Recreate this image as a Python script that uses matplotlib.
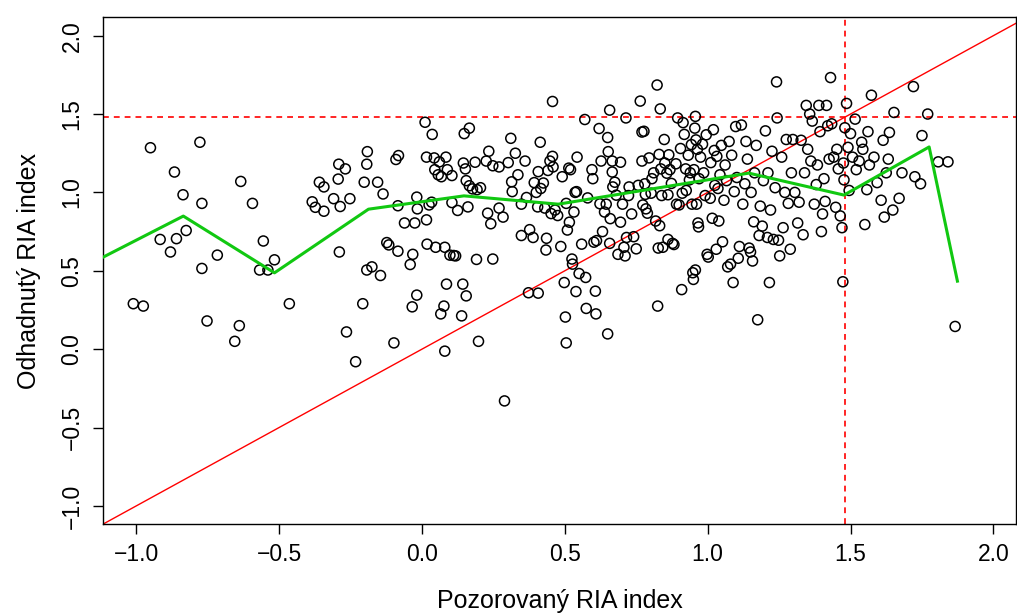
import matplotlib
matplotlib.use("Agg")
import matplotlib.pyplot as plt
import numpy as np

plt.rcParams['font.family'] = ['Liberation Sans', 'DejaVu Sans']

# observed RIA index (x) vs estimated RIA index (y)
pts = [
(-1.01,0.29),(-0.975,0.275),(-0.95,1.285),(-0.916,0.70),(-0.88,0.62),(-0.866,1.13),(-0.859,0.705),
(-0.836,0.985),(-0.825,0.757),(-0.777,1.32),(-0.77,0.93),(-0.77,0.515),(-0.752,0.18),(-0.716,0.60),
(-0.655,0.05),(-0.639,0.15),(-0.634,1.07),(-0.593,0.93),(-0.568,0.505),(-0.555,0.69),(-0.539,0.505),
(-0.516,0.57),(-0.464,0.29),
(-0.384,0.94),(-0.373,0.905),(-0.359,1.065),(-0.343,1.035),(-0.343,0.88),(-0.309,0.96),(-0.293,1.085),
(-0.291,1.18),(-0.286,0.91),(-0.289,0.62),(-0.268,1.15),(-0.264,0.11),(-0.252,0.96),(-0.232,-0.08),
(-0.207,0.29),(-0.202,1.065),(-0.193,1.18),(-0.191,1.26),(-0.193,0.505),(-0.175,0.525),(-0.155,1.065),
(-0.145,0.47),(-0.136,0.99),(-0.123,0.68),(-0.116,0.665),(-0.098,0.04),(-0.091,1.21),(-0.082,1.235),
(-0.084,0.625),(-0.084,0.915),(-0.061,0.805),(-0.041,0.54),(-0.034,0.27),(-0.032,0.605),(-0.025,0.805),
(-0.018,0.97),(-0.018,0.345),(-0.016,0.895),
(0.011,1.4475),(0.016,0.825),(0.018,0.67),(0.016,1.225),(0.025,0.92),(0.036,1.37),(0.034,0.9375),
(0.043,1.22),(0.045,1.145),(0.048,0.65),(0.057,1.1125),(0.061,1.195),(0.066,0.225),(0.068,1.10),
(0.080,0.65),(0.077,0.275),(0.080,-0.0125),(0.084,1.225),(0.086,0.415),(0.089,1.145),(0.098,0.60),
(0.105,1.1075),(0.105,0.935),(0.111,0.5975),(0.118,0.595),(0.125,0.885),(0.139,0.2125),(0.143,0.415),
(0.145,1.1875),(0.148,1.375),(0.152,1.15),(0.155,0.34),(0.155,1.075),(0.161,0.9075),(0.166,1.41),
(0.166,1.0425),(0.177,1.0225),(0.186,1.1925),(0.191,0.5725),(0.193,1.0175),(0.198,0.05),(0.205,1.03),
(0.225,1.20),(0.23,0.8675),(0.234,1.2625),(0.241,0.80),(0.248,0.575),(0.248,1.17),(0.27,0.90),
(0.27,1.1625),(0.284,0.8425),(0.289,-0.33),(0.302,1.19),(0.311,1.345),(0.314,1.0675),(0.316,1.005),
(0.327,1.25),(0.336,1.1125),(0.348,0.725),(0.348,0.925),(0.361,1.20),(0.366,0.9675),(0.373,0.36),
(0.377,0.7625),(0.389,0.7125),(0.393,1.0625),(0.40,1.00),(0.405,0.9075),(0.407,0.3575),(0.407,1.1325),
(0.414,1.32),(0.416,1.025),(0.425,1.06),(0.43,0.90),(0.434,0.6325),(0.436,0.7075),(0.441,1.14),
(0.448,1.20),(0.452,0.865),(0.457,1.58),(0.457,1.23),(0.459,1.1625),(0.466,0.8875),(0.475,0.8525),
(0.486,0.655),(0.491,1.10),(0.498,0.425),(0.502,0.205),(0.505,0.04),(0.505,0.93),(0.509,0.76),
(0.514,1.155),(0.516,0.81),(0.52,1.145),(0.525,0.575),(0.527,0.5425),(0.532,0.875),(0.536,1.00),
(0.539,0.3675),(0.541,1.005),(0.543,1.225),(0.55,0.4825),(0.559,0.67),(0.57,1.465),(0.573,0.4575),
(0.575,0.26),(0.58,0.965),(0.595,1.145),(0.598,1.0875),(0.602,0.6825),(0.607,0.37),(0.609,0.225),
(0.611,0.6925),(0.62,1.4075),(0.623,0.9275),(0.627,1.20),(0.632,0.75),(0.639,0.875),(0.645,0.925),
(0.65,0.0975),(0.65,1.35),(0.652,1.26),(0.657,1.525),(0.657,0.675),(0.659,0.8325),(0.666,1.13),
(0.666,1.20),(0.668,1.035),(0.675,1.065),(0.68,0.9825),(0.686,0.605),(0.695,1.1925),(0.695,0.81),
(0.702,0.925),(0.707,0.65),(0.711,0.595),(0.714,1.475),(0.716,0.7125),(0.723,0.98),(0.725,1.035),
(0.734,0.8625),(0.741,0.7175),(0.75,0.64),(0.757,1.045),(0.764,1.5825),(0.77,1.20),(0.77,1.385),
(0.777,1.39),(0.773,0.92),(0.78,1.055),(0.782,0.9875),(0.784,0.895),(0.789,0.8675),(0.795,1.22),
(0.802,0.995),(0.805,1.0875),(0.811,1.125),(0.818,0.8175),(0.823,1.685),(0.825,0.275),(0.827,0.645),
(0.83,1.2425),(0.832,0.7875),(0.834,1.5325),(0.836,1.15),(0.839,0.98),(0.843,0.65),(0.848,1.3375),
(0.85,1.1875),(0.857,1.1225),(0.861,0.985),(0.861,0.70),(0.864,1.24),(0.868,1.145),(0.873,1.0575),
(0.877,0.675),(0.882,0.6675),(0.889,1.1825),(0.891,0.925),(0.895,1.475),(0.90,0.92),(0.905,1.28),
(0.909,0.38),(0.911,0.995),(0.914,1.445),(0.918,1.37),(0.923,1.15),(0.925,1.0125),(0.932,1.2375),
(0.936,1.08),(0.939,1.125),(0.943,1.305),(0.945,0.925),(0.948,0.4875),(0.95,0.445),(0.952,1.145),
(0.955,1.41),(0.957,0.505),(0.957,1.485),(0.959,1.335),(0.961,0.925),(0.964,1.275),(0.966,0.805),
(0.968,0.78),(0.97,1.0875),(0.975,1.225),(0.982,1.3075),(0.986,1.125),(0.991,0.98),(0.995,1.3675),
(0.998,0.605),(1.002,0.5875),(1.009,0.9625),(1.011,1.19),(1.016,0.835),(1.02,1.40),(1.023,1.2675),
(1.025,1.045),(1.03,0.6375),(1.032,1.23),(1.036,1.025),(1.039,0.8175),(1.043,1.1125),(1.048,1.30),
(1.052,0.685),(1.057,0.95),(1.061,1.175),(1.066,1.075),(1.07,0.525),(1.075,1.325),(1.08,0.5425),
(1.084,1.2375),(1.089,0.425),(1.093,1.005),(1.098,1.42),(1.102,1.095),(1.107,0.58),(1.111,0.655),
(1.118,1.43),(1.123,0.925),(1.13,1.055),(1.134,1.325),(1.139,1.2125),(1.145,0.645),(1.15,0.62),
(1.152,1.00),(1.157,0.5625),(1.161,0.8125),(1.164,1.125),(1.17,1.30),(1.175,0.1875),(1.18,0.725),
(1.184,0.9125),(1.191,0.785),(1.195,1.075),(1.202,1.3925),(1.209,0.7125),(1.211,1.125),(1.216,0.425),
(1.22,0.8875),(1.225,1.2625),(1.23,0.70),(1.236,1.03),(1.241,1.705),(1.243,1.475),(1.248,0.695),
(1.252,0.595),(1.259,1.225),(1.264,0.775),(1.27,1.00),(1.275,1.3375),(1.282,0.93),(1.289,0.6375),
(1.293,1.125),(1.298,1.3375),(1.305,1.00),(1.315,0.805),(1.32,0.9375),(1.327,1.3325),(1.334,0.73),
(1.339,1.125),(1.345,1.555),(1.35,1.275),(1.357,1.50),(1.361,1.20),(1.366,1.455),(1.373,0.925),
(1.38,1.05),(1.384,1.175),(1.389,1.555),(1.393,1.3875),(1.398,0.75),(1.402,0.8625),(1.407,1.0875),
(1.411,0.9425),(1.416,1.555),(1.42,1.425),(1.425,1.2125),(1.43,1.7325),(1.434,1.4375),(1.441,1.225),
(1.448,0.905),(1.452,1.275),(1.457,1.15),(1.464,0.85),(1.47,0.775),(1.473,0.43),(1.475,1.1875),
(1.477,1.08),(1.48,1.4125),(1.486,1.5675),(1.491,1.2875),(1.495,1.0125),(1.50,1.375),(1.507,1.225),
(1.516,1.4675),(1.52,1.145),(1.53,1.20),(1.539,1.32),(1.543,1.275),(1.55,0.795),(1.557,1.0175),
(1.561,1.3875),(1.566,1.175),(1.573,1.62),(1.582,1.225),(1.593,1.0625),(1.607,0.95),(1.614,1.3325),
(1.618,0.8425),(1.625,1.125),(1.632,1.2125),(1.636,1.3825),(1.648,0.8875),(1.652,1.51),(1.67,0.9625),
(1.68,1.125),(1.72,1.675),(1.725,1.10),(1.745,1.055),(1.75,1.3625),(1.77,1.50),(1.807,1.195),
(1.841,1.195),(1.866,0.145),
]
x_obs = [p[0] for p in pts]
y_est = [p[1] for p in pts]

# smoothed trend (green)
trend_x = [-1.15, -0.835, -0.516, -0.187, 0.147, 0.477, 1.144, 1.477, 1.775, 1.874]
trend_y = [0.555, 0.849, 0.487, 0.893, 0.978, 0.925, 1.123, 0.983, 1.290, 0.434]

threshold = 1.48
xticks = [-1.0, -0.5, 0.0, 0.5, 1.0, 1.5, 2.0]
yticks = [-1.0, -0.5, 0.0, 0.5, 1.0, 1.5, 2.0]

fig = plt.figure(figsize=(10.17, 6.15), dpi=100)
ax = fig.add_axes([0.1013, 0.148, 0.898, 0.824])
xlim = (-1.116, 2.08)
ylim = (-1.115, 2.1175)
ax.set_xlim(*xlim)
ax.set_ylim(*ylim)

ax.scatter(x_obs, y_est, s=52, facecolors='none', edgecolors='black', linewidths=1.1, zorder=3)
ax.plot([-3, 3], [-3, 3], color='#ff0000', lw=1.0, zorder=2)
ax.axhline(threshold, color='#ff0000', lw=1.2, ls=(0, (3.5, 3)), zorder=2)
ax.axvline(threshold, color='#ff0000', lw=1.2, ls=(0, (3.5, 3)), zorder=2)
ax.plot(trend_x, trend_y, color='#11c811', lw=2.2, zorder=4)

ax.set_xticks(xticks)
ax.set_xticklabels([f"{v:.1f}".replace('-', '\u2212') for v in xticks], fontsize=16.5)
ax.set_yticks(yticks)
ax.set_yticklabels([f"{v:.1f}".replace('-', '\u2212') for v in yticks], fontsize=16.5,
                   rotation=90, va='center')
ax.tick_params(direction='out', length=7, width=1, pad=7)
for s in ax.spines.values():
    s.set_linewidth(1.0)

ax.set_xlabel("Pozorovaný RIA index", fontsize=18, labelpad=16)
ax.set_ylabel("Odhadnutý RIA index", fontsize=18, labelpad=14)

fig.savefig("out.png", dpi=100)
